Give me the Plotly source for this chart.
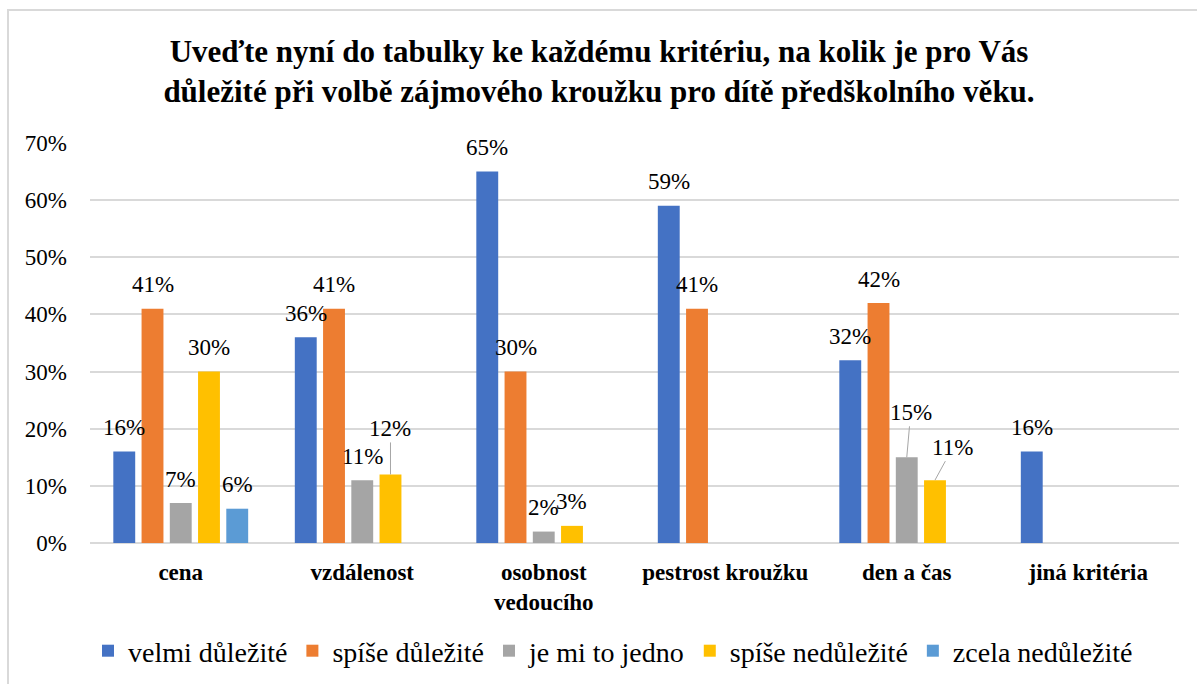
import plotly.graph_objects as go

categories = ["cena", "vzdálenost", "osobnost<br>vedoucího", "pestrost kroužku", "den a čas", "jiná kritéria"]
series_names = ["velmi důležité", "spíše důležité", "je mi to jedno", "spíše nedůležité", "zcela nedůležité"]
velmi_dulezite = [16, 36, 65, 59, 32, 16]
spise_dulezite = [41, 41, 30, 41, 42, None]
je_mi_to_jedno = [7, 11, 2, None, 15, None]
spise_nedulezite = [30, 12, 3, None, 11, None]
zcela_nedulezite = [6, None, None, None, None, None]
y_ticks = [0, 10, 20, 30, 40, 50, 60, 70]

series_values = [velmi_dulezite, spise_dulezite, je_mi_to_jedno, spise_nedulezite, zcela_nedulezite]
colors = ["#4472C4", "#ED7D31", "#A5A5A5", "#FFC000", "#5B9BD5"]

W, H = 1197, 684
ML, MR, MT, MB = 90, W - 1179, 143, H - 543
BARGAP = 0.222
BARGROUPGAP = 0.225
n_series = len(series_names)
slot = (1 - BARGAP) / n_series

FONT = "Times New Roman"

fig = go.Figure()
xs = list(range(len(categories)))
for name, vals, col in zip(series_names, series_values, colors):
    fig.add_trace(go.Bar(
        x=xs, y=vals, name=name, marker=dict(color=col, line=dict(width=0)),
    ))

# label offsets for labels moved away with leader lines: (series idx, category idx) -> (ax, ay)
leader = {(3, 1): (0, -46), (2, 4): (4, -45), (3, 4): (18, -33)}

annotations = []
for j, vals in enumerate(series_values):
    for i, v in enumerate(vals):
        if v is None:
            continue
        xpos = i + (j - (n_series - 1) / 2) * slot
        if (j, i) in leader:
            ax, ay = leader[(j, i)]
            annotations.append(dict(
                x=xpos, y=v, xref="x", yref="y", text=f"{v}%",
                showarrow=True, arrowhead=0, arrowwidth=1, arrowcolor="#A6A6A6",
                ax=ax, ay=ay, font=dict(family=FONT, size=23, color="#000000"),
            ))
        else:
            annotations.append(dict(
                x=xpos, y=v, xref="x", yref="y", text=f"{v}%",
                showarrow=False, yanchor="middle", yshift=24,
                font=dict(family=FONT, size=23, color="#000000"),
            ))

pw = W - ML - MR
ph = H - MT - MB
def px_to_paper_x(px):
    return (px - ML) / pw
def px_to_paper_y(py):
    return (H - MB - py) / ph

fig.update_layout(
    width=W, height=H,
    font=dict(family=FONT, color="#000000"),
    margin=dict(l=ML, r=MR, t=MT, b=MB, autoexpand=False),
    paper_bgcolor="white", plot_bgcolor="white",
    barmode="group", bargap=BARGAP, bargroupgap=BARGROUPGAP,
    title=dict(
        text="<b>Uveďte nyní do tabulky ke každému kritériu, na kolik je pro Vás<br>důležité při volbě zájmového kroužku pro dítě předškolního věku.</b>",
        x=599 / W, xref="container", xanchor="center", y=1 - 62 / H, yref="container", yanchor="middle",
        font=dict(family=FONT, size=31, color="#000000"),
    ),
    xaxis=dict(
        tickmode="array", tickvals=xs, ticktext=[f"<b>{c}</b>" for c in categories],
        range=[-0.5, len(categories) - 0.5],
        tickfont=dict(family=FONT, size=23, color="#000000"),
        showgrid=False, zeroline=False, showline=False, ticks="", ticklabelstandoff=13,
        automargin=False,
    ),
    yaxis=dict(
        range=[0, 70], tickmode="array", tickvals=y_ticks, ticktext=[f"{t}%" for t in y_ticks],
        tickfont=dict(family=FONT, size=23, color="#000000"),
        showgrid=True, gridcolor="#D9D9D9", gridwidth=2, zeroline=True, zerolinecolor="#D9D9D9", zerolinewidth=2,
        showline=False, ticks="", ticklabelstandoff=22, automargin=False,
    ),
    legend=dict(
        orientation="h", x=613 / W, xref="container", xanchor="center",
        y=1 - 651 / H, yref="container", yanchor="middle",
        font=dict(family=FONT, size=28, color="#000000"), itemwidth=30, traceorder="normal",
        bgcolor="rgba(0,0,0,0)",
    ),
    annotations=annotations,
    shapes=[dict(
        type="rect", xref="paper", yref="paper",
        x0=px_to_paper_x(8), x1=px_to_paper_x(1210), y0=px_to_paper_y(700), y1=px_to_paper_y(10),
        line=dict(color="#D9D9D9", width=2), fillcolor="rgba(0,0,0,0)", layer="below",
    )],
    showlegend=True,
)

fig.write_html("out.html", config={"displayModeBar": False},
               post_script="document.body.style.margin='0';")
